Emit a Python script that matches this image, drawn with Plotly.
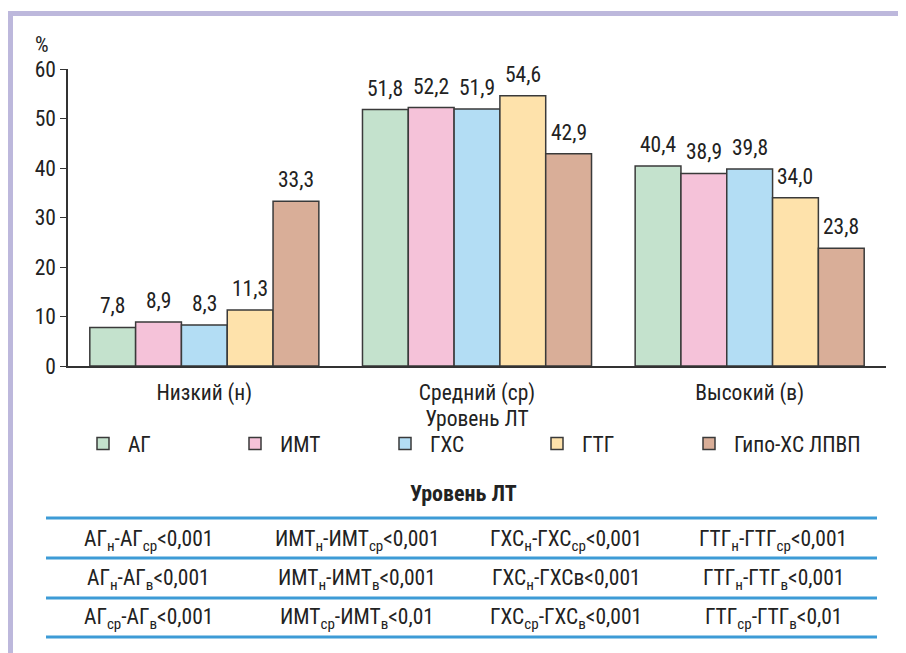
import plotly.graph_objects as go

categories = ["Низкий (н)", "Средний (ср)", "Высокий (в)"]
series_names = ["АГ", "ИМТ", "ГХС", "ГТГ", "Гипо-ХС ЛПВП"]
values = {
    "АГ": [7.8, 51.8, 40.4],
    "ИМТ": [8.9, 52.2, 38.9],
    "ГХС": [8.3, 51.9, 39.8],
    "ГТГ": [11.3, 54.6, 34.0],
    "Гипо-ХС ЛПВП": [33.3, 42.9, 23.8],
}
y_ticks = [0, 10, 20, 30, 40, 50, 60]
table_rows = [
    ["АГ<sub>н</sub>-АГ<sub>ср</sub>&lt;0,001", "ИМТ<sub>н</sub>-ИМТ<sub>ср</sub>&lt;0,001",
     "ГХС<sub>н</sub>-ГХС<sub>ср</sub>&lt;0,001", "ГТГ<sub>н</sub>-ГТГ<sub>ср</sub>&lt;0,001"],
    ["АГ<sub>н</sub>-АГ<sub>в</sub>&lt;0,001", "ИМТ<sub>н</sub>-ИМТ<sub>в</sub>&lt;0,001",
     "ГХС<sub>н</sub>-ГХСв&lt;0,001", "ГТГ<sub>н</sub>-ГТГ<sub>в</sub>&lt;0,001"],
    ["АГ<sub>ср</sub>-АГ<sub>в</sub>&lt;0,001", "ИМТ<sub>ср</sub>-ИМТ<sub>в</sub>&lt;0,01",
     "ГХС<sub>ср</sub>-ГХС<sub>в</sub>&lt;0,001", "ГТГ<sub>ср</sub>-ГТГ<sub>в</sub>&lt;0,01"],
]

colors = ["#c4e2cd", "#f5c2d9", "#b3ddf4", "#fee2ab", "#d9ae98"]
FONT = "Liberation Sans Narrow, Roboto Condensed, Arial Narrow, Roboto, sans-serif"
FS = 21.5

OFF = 8  # page body margin
W, H = 906 - OFF, 653 - OFF
PL, PR, PT, PB = 68, 886, 69, 366  # plot area in screenshot pixels
L, R, T, B = PL - OFF, W - (PR - OFF), PT - OFF, H - (PB - OFF)
PW, PH = PR - PL, PB - PT
BARGAP = 0.16

def px(x):
    return (x - PL) / PW

def py(y):
    return (PB - y) / PH

fig = go.Figure()
legend_box_cx = [102, 254, 404, 556, 708]
legend_defs = {}
annotations = []
nser = len(series_names)
bw = (1 - BARGAP) / nser
for i, (name, col) in enumerate(zip(series_names, colors)):
    vals = values[name]
    lg = "legend" if i == 0 else f"legend{i + 1}"
    legend_defs[lg] = dict(orientation="h", x=px(legend_box_cx[i] - 19), y=py(423), xanchor="left",
                           yanchor="top", font=dict(size=FS, family=FONT, color="#222"),
                           bgcolor="rgba(0,0,0,0)", visible=True)
    fig.add_trace(go.Bar(
        x=categories, y=vals, name="\u00a0" + name, legend=lg, showlegend=True,
        marker=dict(color=col, line=dict(color="#3a3a3a", width=1.5)),
    ))
    for ci, v in enumerate(vals):
        annotations.append(dict(
            x=ci + (i - (nser - 1) / 2) * bw, y=v, xref="x", yref="y",
            text=f"{v:.1f}".replace(".", ","), showarrow=False,
            xanchor="center", yanchor="bottom", yshift=7,
            font=dict(size=FS, color="#222", family=FONT)))

shapes = []
shapes.append(dict(type="line", xref="paper", yref="paper", x0=px(8), x1=px(906), y0=py(13.5), y1=py(13.5),
                   line=dict(color="#bdb8dc", width=5)))
shapes.append(dict(type="line", xref="paper", yref="paper", x0=px(10.5), x1=px(10.5), y0=py(11), y1=py(660),
                   line=dict(color="#bdb8dc", width=5)))
for yy in [518, 558, 598, 637]:
    shapes.append(dict(type="line", xref="paper", yref="paper", x0=px(46), x1=px(877), y0=py(yy), y1=py(yy),
                       line=dict(color="#3d9bd6", width=3)))

annotations += [
    dict(text="%", xref="paper", yref="paper", x=px(42), y=py(45), xanchor="center", yanchor="middle",
         showarrow=False, font=dict(size=FS, color="#222", family=FONT)),
    dict(text="<b>Уровень ЛТ</b>", xref="paper", yref="paper", x=px(463), y=py(493), xanchor="center",
         yanchor="middle", showarrow=False, font=dict(size=22, color="#222", family=FONT)),
]
col_x = [148, 357, 566, 773]
row_y = [540, 579, 618]
for r, row in enumerate(table_rows):
    for c, txt in enumerate(row):
        annotations.append(dict(text=txt, xref="paper", yref="paper", x=px(col_x[c]), y=py(row_y[r]),
                                xanchor="center", yanchor="middle",
                                showarrow=False, font=dict(size=FS, color="#222", family=FONT)))

fig.update_layout(
    width=W, height=H,
    margin=dict(l=L, r=R, t=T, b=B),
    paper_bgcolor="white", plot_bgcolor="white",
    barmode="group", bargap=BARGAP, bargroupgap=0,
    showlegend=True,
    font=dict(family=FONT, color="#222"),
    shapes=shapes, annotations=annotations,
    xaxis=dict(showline=True, linecolor="#333", linewidth=1.5, ticks="", showgrid=False,
               ticklabelstandoff=6,
               tickfont=dict(size=FS, family=FONT, color="#222"),
               title=dict(text="Уровень ЛТ", font=dict(size=FS, family=FONT, color="#222"), standoff=0)),
    yaxis=dict(range=[0, 60], tickvals=y_ticks, showline=True, linecolor="#333", linewidth=1.5,
               ticks="outside", ticklen=6, tickcolor="#333", showgrid=False, zeroline=False,
               tickfont=dict(size=FS, family=FONT, color="#222")),
    **legend_defs,
)

fig.write_html("out.html")
